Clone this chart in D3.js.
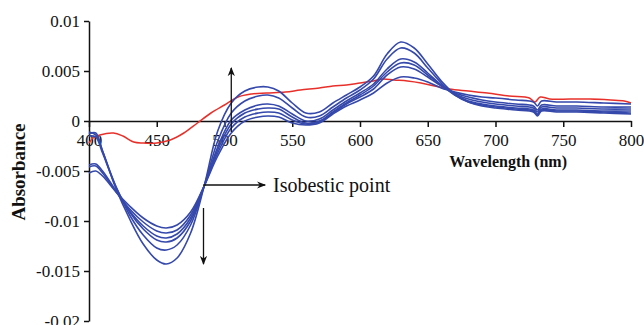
<!DOCTYPE html>
<html lang="en">
<head>
  <meta charset="UTF-8">
  <title>Absorbance difference spectra</title>
  <script src="https://d3js.org/d3.v7.min.js"></script>
  <style>
    body { margin: 0; background: #fff; }
    .axis path, .axis line { stroke: #111; stroke-width: 1.5; }
  </style>
</head>
<body>
  <script>
    const serif = "'Liberation Serif', 'DejaVu Serif', 'Times New Roman', serif";

    // x ticks and y ticks
    const xTicks = [400, 450, 500, 550, 600, 650, 700, 750, 800];
    const yTicks = [-0.02, -0.015, -0.01, -0.005, 0, 0.005, 0.01];
    const yTickLabels = ["-0.02", "-0.015", "-0.01", "-0.005", "0", "0.005", "0.01"];

    // wavelengths for the blue series
    const blueWl = [400, 405, 410, 420, 430, 440, 450, 457, 465, 475, 485, 495, 505, 515, 525, 532, 540, 550, 560, 570,
      580, 590, 600, 610, 620, 630, 640, 650, 660, 670, 680, 690, 700, 715, 728, 731, 734, 745, 760, 780, 800];

    const blueA = [-0.0011, -0.0014, -0.0030, -0.0068, -0.0098, -0.0123, -0.0139, -0.0143, -0.0137, -0.0112, -0.0065, -0.0010, 0.0018, 0.0030, 0.0034, 0.0034, 0.0030, 0.0018, 0.0008, 0.0009,
      0.0018, 0.0026, 0.0034, 0.0045, 0.0067, 0.0079, 0.0073, 0.0057, 0.0040, 0.0027, 0.0019, 0.0015, 0.0013, 0.0011, 0.0009, 0.0005, 0.0010, 0.0009, 0.0009, 0.0008, 0.0007];
    const blueB = [-0.0013, -0.0012, -0.0030, -0.0066, -0.0094, -0.0114, -0.0127, -0.0129, -0.0124, -0.0104, -0.0065, -0.0020, 0.0008, 0.0020, 0.0025, 0.0026, 0.0023, 0.0013, 0.0004, 0.0005,
      0.0014, 0.0023, 0.0031, 0.0042, 0.0062, 0.0073, 0.0068, 0.0053, 0.0038, 0.0026, 0.0019, 0.0016, 0.0014, 0.0012, 0.0010, 0.0006, 0.0011, 0.0010, 0.0010, 0.0009, 0.0008];
    const blueC = [-0.0015, -0.0016, -0.0032, -0.0066, -0.0091, -0.0108, -0.0119, -0.0121, -0.0117, -0.0100, -0.0065, -0.0026, 0.0001, 0.0011, 0.0016, 0.0017, 0.0015, 0.0007, 0.0000, 0.0002,
      0.0011, 0.0020, 0.0028, 0.0037, 0.0052, 0.0062, 0.0059, 0.0048, 0.0036, 0.0026, 0.0020, 0.0017, 0.0015, 0.0013, 0.0011, 0.0007, 0.0012, 0.0011, 0.0011, 0.0010, 0.0010];
    const blueD = [-0.0044, -0.0043, -0.0050, -0.0070, -0.0090, -0.0105, -0.0115, -0.0117, -0.0113, -0.0097, -0.0065, -0.0029, -0.0003, 0.0008, 0.0012, 0.0013, 0.0012, 0.0004, -0.0002, 0.0000,
      0.0009, 0.0018, 0.0026, 0.0035, 0.0049, 0.0058, 0.0056, 0.0046, 0.0036, 0.0027, 0.0022, 0.0019, 0.0017, 0.0015, 0.0013, 0.0009, 0.0014, 0.0013, 0.0013, 0.0012, 0.0012];
    const blueE = [-0.0046, -0.0045, -0.0052, -0.0071, -0.0088, -0.0101, -0.0110, -0.0112, -0.0109, -0.0094, -0.0065, -0.0032, -0.0007, 0.0004, 0.0008, 0.0009, 0.0008, 0.0001, -0.0003, -0.0001,
      0.0008, 0.0017, 0.0024, 0.0032, 0.0046, 0.0054, 0.0052, 0.0044, 0.0035, 0.0028, 0.0024, 0.0021, 0.0019, 0.0017, 0.0015, 0.0011, 0.0016, 0.0015, 0.0015, 0.0014, 0.0014];
    const blueF = [-0.0052, -0.0050, -0.0055, -0.0071, -0.0085, -0.0097, -0.0105, -0.0107, -0.0104, -0.0091, -0.0065, -0.0035, -0.0012, 0.0000, 0.0004, 0.0005, 0.0004, -0.0002, -0.0004, -0.0002,
      0.0007, 0.0015, 0.0021, 0.0028, 0.0038, 0.0044, 0.0043, 0.0039, 0.0033, 0.0029, 0.0026, 0.0024, 0.0023, 0.0021, 0.0019, 0.0015, 0.0020, 0.0019, 0.0019, 0.0018, 0.0017];

    // red reference spectrum
    const redWl = [400, 403, 408, 418, 425, 433, 440, 450, 460, 470, 480, 490, 500, 510, 520, 531, 545, 556, 570, 580,
      590, 600, 610, 617, 625, 635, 645, 655, 666, 680, 694, 710, 725, 729, 733, 740, 755, 770, 785, 795, 800];
    const redVals = [-0.0022, -0.0017, -0.0014, -0.0012, -0.0015, -0.0021, -0.0022, -0.0022, -0.0019, -0.0012, -0.0002, 0.0008, 0.0016, 0.0024, 0.0027, 0.0028, 0.0029, 0.0031, 0.0033, 0.0035,
      0.0036, 0.0038, 0.0040, 0.0042, 0.0041, 0.0040, 0.0038, 0.0035, 0.0032, 0.0030, 0.0028, 0.0025, 0.0023, 0.0019, 0.0024, 0.0022, 0.0022, 0.0022, 0.0021, 0.0020, 0.0018];

    const width = 644, height = 325;
    const svg = d3.select("body").append("svg")
      .attr("width", width)
      .attr("height", height);

    const x = d3.scaleLinear().domain([400, 800]).range([89, 631]);
    const y = d3.scaleLinear().domain([-0.02, 0.01]).range([321, 21]);

    // arrow marker
    svg.append("defs").append("marker")
      .attr("id", "head")
      .attr("viewBox", "0 0 10 10")
      .attr("refX", 9).attr("refY", 5)
      .attr("markerWidth", 9).attr("markerHeight", 9)
      .attr("markerUnits", "userSpaceOnUse")
      .attr("orient", "auto")
      .append("path")
      .attr("d", "M0,1 L10,5 L0,9 L3,5 Z")
      .attr("fill", "#111");

    // axes
    const yAxis = svg.append("g").attr("class", "axis")
      .attr("transform", `translate(${x(400)},0)`)
      .call(d3.axisLeft(y).tickValues(yTicks).tickFormat((d, i) => yTickLabels[i]).tickSize(5).tickSizeOuter(0).tickPadding(4));
    yAxis.attr("font-family", null);
    yAxis.selectAll("text")
      .style("font-family", serif)
      .style("font-size", "17px")
      .attr("fill", "#111");

    const xAxis = svg.append("g").attr("class", "axis")
      .attr("transform", `translate(0,${y(0)})`)
      .call(d3.axisBottom(x).tickValues(xTicks).tickFormat(d3.format("d")).tickSize(6).tickSizeOuter(0).tickPadding(7));
    xAxis.attr("font-family", null);
    xAxis.selectAll("text")
      .style("font-family", serif)
      .style("font-size", "17px")
      .attr("fill", "#111");

    // lines
    const line = d3.line()
      .x(d => x(d[0]))
      .y(d => y(d[1]))
      .curve(d3.curveCatmullRom.alpha(0.5));

    svg.append("path")
      .datum(d3.zip(redWl, redVals))
      .attr("fill", "none")
      .attr("stroke", "#e8302a")
      .attr("stroke-width", 1.5)
      .attr("d", line);

    const blueSeries = [blueA, blueB, blueC, blueD, blueE, blueF];
    svg.selectAll(".blue")
      .data(blueSeries)
      .enter().append("path")
      .attr("class", "blue")
      .attr("fill", "none")
      .attr("stroke", "#3548ab")
      .attr("stroke-width", 1.6)
      .attr("d", vals => line(d3.zip(blueWl, vals)));

    // annotation arrows
    const arrow = (x1, y1, x2, y2) => svg.append("line")
      .attr("x1", x1).attr("y1", y1).attr("x2", x2).attr("y2", y2)
      .attr("stroke", "#111").attr("stroke-width", 1.3)
      .attr("marker-end", "url(#head)");

    arrow(x(505), y(-0.0011), x(505), y(0.0053));
    arrow(x(484.5), y(-0.0087), x(484.5), y(-0.0143));
    arrow(x(484.5), y(-0.0064), x(530), y(-0.0064));

    svg.append("text")
      .attr("x", 273).attr("y", y(-0.0064) + 6.5)
      .style("font-family", serif)
      .style("font-size", "20px")
      .attr("fill", "#111")
      .text("Isobestic point");

    // axis titles
    svg.append("text")
      .attr("x", 567).attr("y", 167)
      .attr("text-anchor", "end")
      .style("font-family", serif)
      .style("font-size", "16px")
      .style("font-weight", "bold")
      .attr("fill", "#111")
      .text("Wavelength (nm)");

    svg.append("text")
      .attr("transform", "translate(25,172) rotate(-90)")
      .attr("text-anchor", "middle")
      .style("font-family", serif)
      .style("font-size", "19px")
      .style("font-weight", "bold")
      .attr("fill", "#111")
      .text("Absorbance");
  </script>
</body>
</html>
